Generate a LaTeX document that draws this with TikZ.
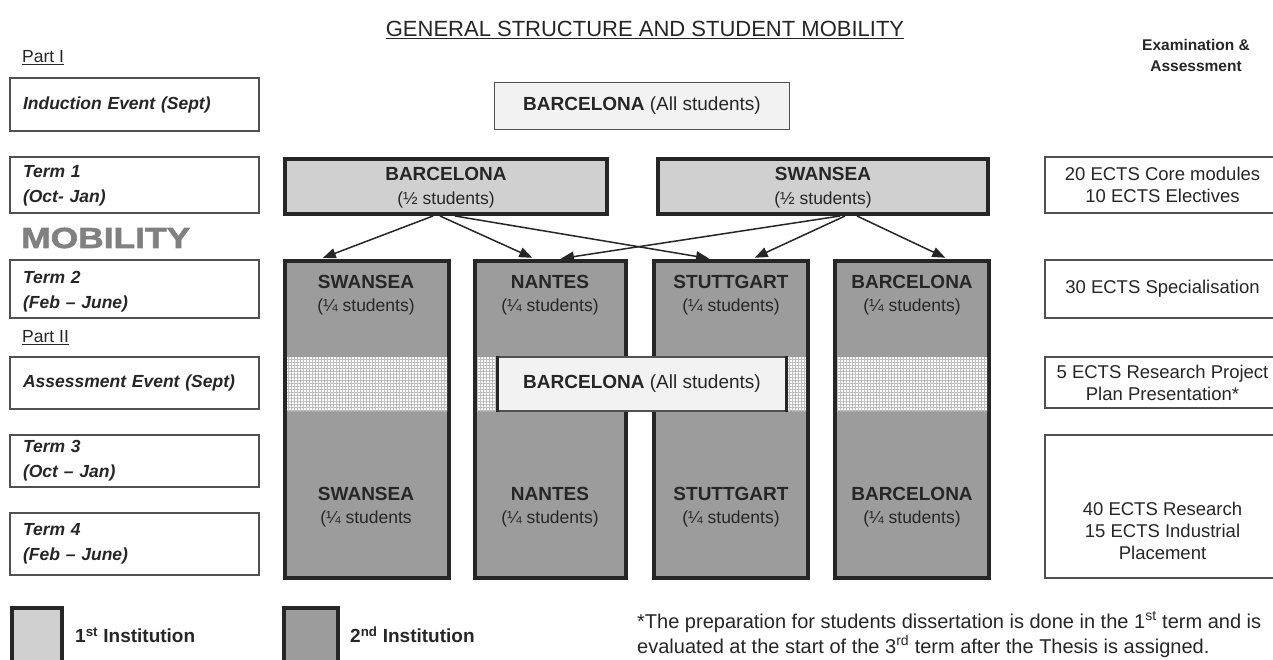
\documentclass[tikz,border=0pt]{standalone}
\usepackage{fontspec}
\setmainfont{Liberation Sans}
\newfontfamily\blackfont{Liberation Sans}[UprightFont={* Bold},FakeStretch=1.22,FakeBold=2]
\usetikzlibrary{arrows.meta,patterns,calc}
\definecolor{ink}{HTML}{262626}
\definecolor{boxgray}{HTML}{505050}
\definecolor{gone}{HTML}{D0D0D0}
\definecolor{gtwo}{HTML}{9C9C9C}
\definecolor{pale}{HTML}{F2F2F2}
\definecolor{mob}{HTML}{808080}
\newcommand\fsz[2]{\fontsize{#1}{#2}\selectfont}
\tikzset{
  termbox/.style={draw=boxgray, line width=1.2pt, fill=white, inner xsep=13pt, text width=223pt, align=left, font=\fsz{17.5}{25}\bfseries\itshape, text=ink},
  rbox/.style={draw=boxgray, line width=1.2pt, fill=white, minimum width=235pt, align=center, font=\fsz{18.5}{22}, text=ink},
  instone/.style={draw=ink, line width=4pt, fill=gone, align=center, font=\fsz{17.5}{24}, text=ink},
  insttwo/.style={draw=ink, line width=4pt, fill=gtwo},
  coltext/.style={align=center, font=\fsz{17.5}{23.5}, text=ink},
  allbox/.style={draw=boxgray, line width=1.3pt, fill=pale, font=\fsz{19}{23}, text=ink},
  arr/.style={draw=ink, line width=1.5pt, -{Triangle[length=13pt,width=10pt]}, shorten >=3pt},
  band/.style={fill=white, postaction={pattern=grid, pattern color=gray!50}},
  plain/.style={text=ink, inner sep=0pt}
}
\begin{document}
\begin{tikzpicture}[x=1pt,y=-1pt]
\useasboundingbox[fill=white] (0,0) rectangle (1273,659);

% title and headers
\node[plain, font=\fsz{22}{26}] (title) at (645,30) {\underline{GENERAL STRUCTURE AND STUDENT MOBILITY}};
\node[plain, font=\fsz{15.5}{21}\bfseries, align=center] (exam) at (1196,55) {Examination \&\\Assessment};
\node[plain, font=\fsz{17.5}{21}, anchor=west] (p1) at (22,58) {\underline{Part I}};
\node[plain, font=\fsz{17.5}{21}, anchor=west] (p2) at (22,338) {\underline{Part II}};
\node[plain, font=\fsz{29}{32}\blackfont, text=mob, anchor=west] (mobility) at (21,238) {MOBILITY};

% left column
\node[termbox, minimum height=53pt] (ind) at (134.5,104.5) {Induction Event (Sept)};
\node[termbox, minimum height=56pt] (tone) at (134.5,185) {\rule{0pt}{14pt}Term 1\\(Oct- Jan)};
\node[termbox, minimum height=58pt] (ttwo) at (134.5,289) {\rule{0pt}{18pt}Term 2\\(Feb -- June)};
\node[termbox, minimum height=52pt] (ass) at (134.5,383) {Assessment Event (Sept)};
\node[termbox, minimum height=52pt] (tthree) at (134.5,461) {Term 3\\(Oct -- Jan)};
\node[termbox, minimum height=62pt] (tfour) at (134.5,544) {Term 4\\(Feb -- June)};

% right column
\node[rbox, minimum height=56pt] (rone) at (1162.5,185) {20 ECTS Core modules\\10 ECTS Electives};
\node[rbox, minimum height=58pt] (rtwo) at (1162.5,289) {30 ECTS Specialisation};
\node[rbox, minimum height=51pt] (rthree) at (1162.5,382.5) {5 ECTS Research Project\\Plan Presentation*};
\node[rbox, minimum height=143pt] (rfour) at (1162.5,506.5) {};
\node[plain, align=center, font=\fsz{18.5}{22}] (rfourtext) at ($(rfour.center)+(0,24)$) {40 ECTS Research\\15 ECTS Industrial\\Placement};

% top: all students
\node[allbox, minimum width=294.5pt, minimum height=46.5pt] (alltop) at (642,106) {\textbf{BARCELONA} (All students)};

% term 1 institutions
\node[instone, minimum width=322pt, minimum height=55pt] (bone) at (446,186.5) {\rule{0pt}{16pt}\fsz{19}{24}\bfseries BARCELONA\\(\char"00BD\ students)};
\node[instone, minimum width=330pt, minimum height=55pt] (sone) at (823,186.5) {\rule{0pt}{16pt}\fsz{19}{24}\bfseries SWANSEA\\(\char"00BD\ students)};

% second institution columns
\node[insttwo, minimum width=164pt, minimum height=317pt] (cone) at (367,419.5) {};
\node[insttwo, minimum width=151pt, minimum height=317pt] (ctwo) at (550.5,419.5) {};
\node[insttwo, minimum width=154pt, minimum height=317pt] (cthree) at (731,419.5) {};
\node[insttwo, minimum width=154pt, minimum height=317pt] (cfour) at (912,419.5) {};

% assessment-event band
\path[band] (287,357) rectangle (447,411);
\path[band] (477,357) rectangle (624,411);
\path[band] (656,357) rectangle (806,411);
\path[band] (837,357) rectangle (987,411);

% column texts
\node[coltext] (conea) at (366,295) {{\fsz{19}{23.5}\bfseries SWANSEA}\\(\char"00BC\ students)};
\node[coltext] (ctwoa) at (550,295) {{\fsz{19}{23.5}\bfseries NANTES}\\(\char"00BC\ students)};
\node[coltext] (cthreea) at (731,295) {{\fsz{19}{23.5}\bfseries STUTTGART}\\(\char"00BC\ students)};
\node[coltext] (cfoura) at (912,295) {{\fsz{19}{23.5}\bfseries BARCELONA}\\(\char"00BC\ students)};
\node[coltext] (coneb) at (366,507) {{\fsz{19}{23.5}\bfseries SWANSEA}\\(\char"00BC\ students};
\node[coltext] (ctwob) at (550,507) {{\fsz{19}{23.5}\bfseries NANTES}\\(\char"00BC\ students)};
\node[coltext] (cthreeb) at (731,507) {{\fsz{19}{23.5}\bfseries STUTTGART}\\(\char"00BC\ students)};
\node[coltext] (cfourb) at (912,507) {{\fsz{19}{23.5}\bfseries BARCELONA}\\(\char"00BC\ students)};

% middle: all students
\node[allbox, minimum width=288pt, minimum height=54pt] (allmid) at (642,384) {\textbf{BARCELONA} (All students)};
\draw[ink, line width=3.5pt] (allmid.north west) -- (allmid.south west);
\draw[ink, line width=3.5pt] (allmid.north east) -- (allmid.south east);

% mobility arrows
\draw[arr] ([xshift=-13pt]bone.south) -- ([xshift=-47pt]cone.north);
\draw[arr] ([xshift=-6pt]bone.south) -- ([xshift=-15.5pt]ctwo.north);
\draw[arr] ([xshift=9pt]bone.south) -- ([xshift=-19pt]cthree.north);
\draw[arr] ([xshift=17pt]sone.south) -- ([xshift=7.5pt]ctwo.north);
\draw[arr] ([xshift=22pt]sone.south) -- ([xshift=21pt]cthree.north);
\draw[arr] ([xshift=34pt]sone.south) -- ([xshift=36pt]cfour.north);

% legend
\draw[ink, line width=4pt, fill=gone] (12,670) -- (12,608) -- (62,608) -- (62,670);
\coordinate (legone) at (62,635);
\node[plain, font=\fsz{19}{23}\bfseries, anchor=west] (legonetext) at ([xshift=13pt]legone) {1\textsuperscript{st} Institution};
\draw[ink, line width=4pt, fill=gtwo] (284,670) -- (284,608) -- (338,608) -- (338,670);
\coordinate (legtwo) at (338,635);
\node[plain, font=\fsz{19}{23}\bfseries, anchor=west] (legtwotext) at ([xshift=12pt]legtwo) {2\textsuperscript{nd} Institution};

% footnote
\node[plain, font=\fsz{20}{25}, align=left, anchor=west] (foot) at (637,634.5) {*The preparation for students dissertation is done in the 1\textsuperscript{st} term and is\\evaluated at the start of the 3\textsuperscript{rd} term after the Thesis is assigned.};
\end{tikzpicture}
\end{document}
